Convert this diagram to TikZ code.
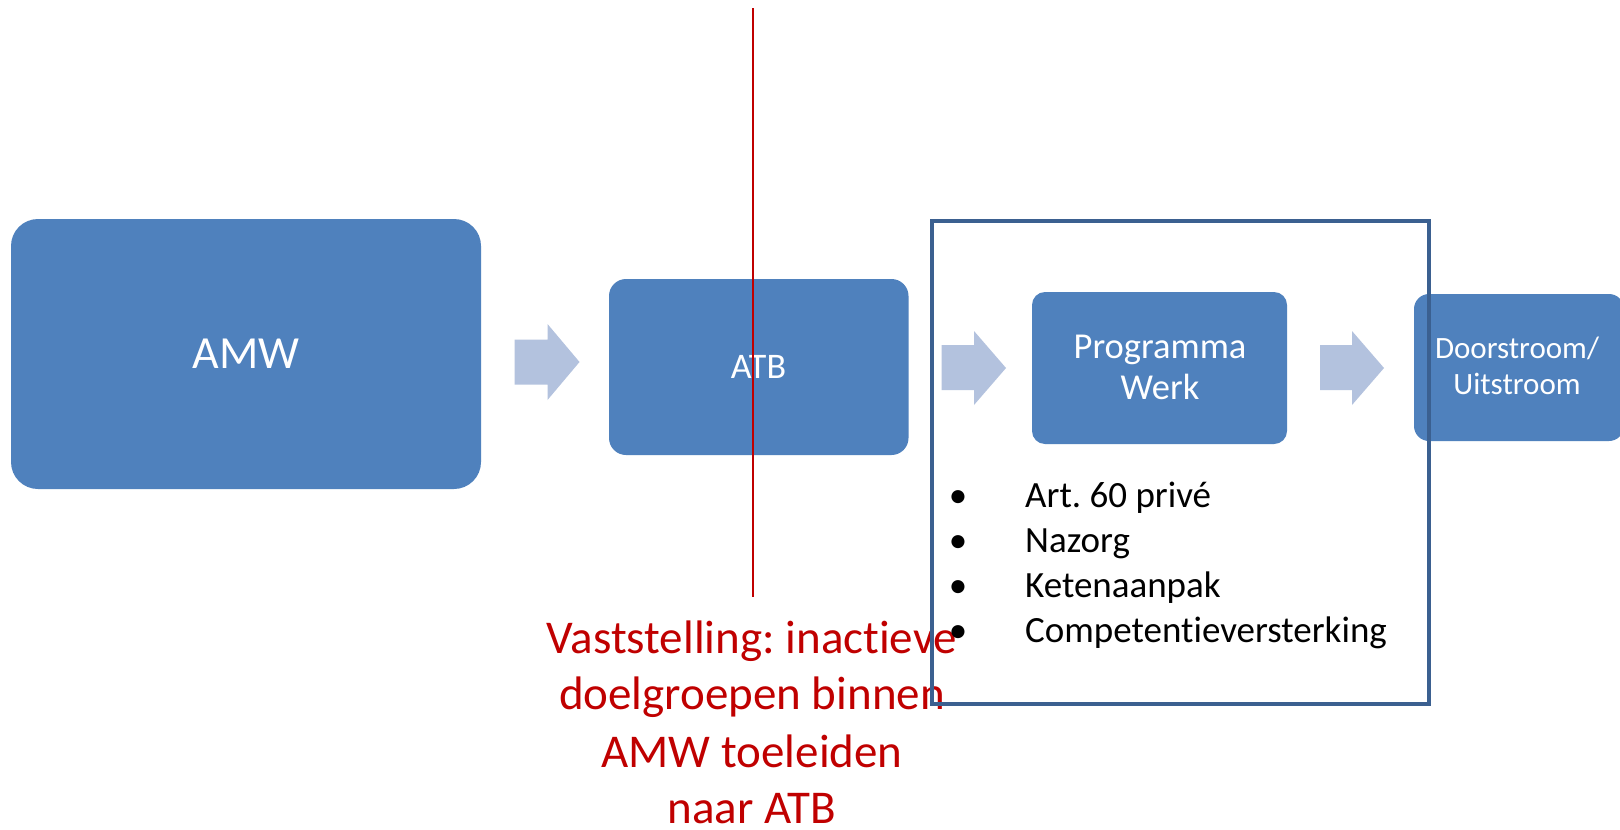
\documentclass[tikz,border=0pt]{standalone}
\usepackage{fontspec}
\setmainfont{Carlito}[Ligatures={NoCommon,NoContextual,NoRare}]
\frenchspacing
\definecolor{boxblue}{HTML}{4F81BD}
\definecolor{arrowblue}{HTML}{B3C2DE}
\definecolor{framblue}{HTML}{3B6090}
\definecolor{darkred}{HTML}{C00000}
\tikzset{
  box/.style={fill=boxblue, draw=none, inner sep=0pt},
  boxtext/.style={text=white, inner sep=0pt, anchor=base},
  blockarrow/.style={fill=arrowblue, draw=none},
  redline/.style={draw=darkred, line width=2pt},
  redtext/.style={text=darkred, inner sep=0pt, anchor=base, font=\fontsize{47}{57}\selectfont},
  framebox/.style={draw=framblue, line width=4pt},
  bullettext/.style={text=black, inner sep=0pt, anchor=base west, font=\fontsize{37}{45}\selectfont},
  bulletmark/.style={text=black, inner sep=0pt, anchor=base, font=\fontsize{37}{45}\selectfont},
}
\begin{document}
\begin{tikzpicture}[x=1pt,y=-1pt]
\useasboundingbox (0,0) rectangle (1620,830);
\fill[white] (0,0) rectangle (1620,830);

% boxes
\node[box, minimum width=470pt, minimum height=270pt, rounded corners=27pt] (amw) at (246,354) {};
\node[boxtext, font=\fontsize{46}{50}\selectfont] (amwt) at (246,368) {AMW};

\node[box, minimum width=299.5pt, minimum height=176pt, rounded corners=17pt] (atb) at (758.75,367) {};
\node[boxtext, font=\fontsize{36}{42}\selectfont] (atbt) at (758.5,378) {ATB};

\node[box, minimum width=255pt, minimum height=152pt, rounded corners=13pt] (pw) at (1159.5,368) {};
\node[boxtext, font=\fontsize{36.5}{41}\selectfont] (pwt1) at (1160,358) {Programma};
\node[boxtext, font=\fontsize{36.5}{41}\selectfont] (pwt2) at (1160,399) {Werk};

\node[box, minimum width=210pt, minimum height=147pt, rounded corners=15pt] (du) at (1519,367.5) {};
\node[boxtext, font=\fontsize{31}{36}\selectfont] (dut1) at (1517,358) {Doorstroom/};
\node[boxtext, font=\fontsize{31}{36}\selectfont] (dut2) at (1517,394) {Uitstroom};

% block arrows
\fill[blockarrow] (514.5,339.5) -- (547.5,339.5) -- (547.5,324) -- (579.5,362) -- (547.5,400) -- (547.5,384.5) -- (514.5,384.5) -- cycle;
\fill[blockarrow] (941.5,345) -- (974,345) -- (974,331) -- (1006,368) -- (974,405) -- (974,390) -- (941.5,390) -- cycle;
\fill[blockarrow] (1320,345) -- (1352,345) -- (1352,331) -- (1384,368) -- (1352,405) -- (1352,390) -- (1320,390) -- cycle;

% red line and text
\coordinate (rtop) at (752.5,8);
\coordinate (rbot) at (752.5,597);
\draw[redline] (rtop) -- (rbot);
\node[redtext] (r1) at (752,653) {Vaststelling: inactieve};
\node[redtext] (r2) at (752,709) {doelgroepen binnen};
\node[redtext] (r3) at (752,767) {AMW toeleiden};
\node[redtext] (r4) at (752,823) {naar ATB};

% frame
\draw[framebox] (932,221) rectangle (1429,704);

% bullets
\node[bulletmark] (b1) at (958,507) {•};
\node[bullettext] (t1) at (1025,507) {Art. 60 privé};
\node[bulletmark] (b2) at (958,552) {•};
\node[bullettext] (t2) at (1025,552) {Nazorg};
\node[bulletmark] (b3) at (958,597) {•};
\node[bullettext] (t3) at (1025,597) {Ketenaanpak};
\node[bulletmark] (b4) at (958,642) {•};
\node[bullettext] (t4) at (1025,642) {Competentieversterking};
\end{tikzpicture}
\end{document}
